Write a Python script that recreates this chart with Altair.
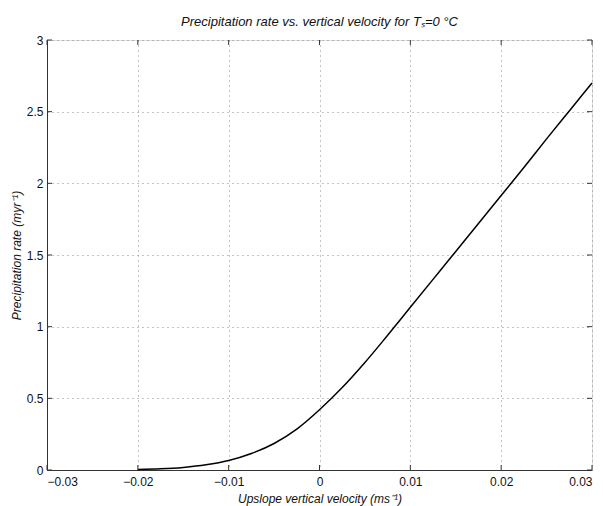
import altair as alt
import pandas as pd

# Curve values
velocity = [-0.02, -0.0175, -0.015, -0.0125, -0.01, -0.0075, -0.005, -0.0025, 0.0,
            0.0025, 0.005, 0.0075, 0.01, 0.0125, 0.015, 0.0175, 0.02, 0.0225,
            0.025, 0.0275, 0.03]
precip = [0.003, 0.008, 0.018, 0.036, 0.066, 0.115, 0.185, 0.285, 0.42,
          0.575, 0.75, 0.94, 1.135, 1.33, 1.525, 1.72, 1.915, 2.11,
          2.31, 2.505, 2.70]

x_ticks = [-0.03, -0.02, -0.01, 0.0, 0.01, 0.02, 0.03]
y_ticks = [0, 0.5, 1, 1.5, 2, 2.5, 3]

W, H = 545, 430
FONT = "Liberation Sans"

df = pd.DataFrame({"v": velocity, "p": precip})
xt = pd.DataFrame({"t": x_ticks})
yt = pd.DataFrame({"t": y_ticks})

xs = alt.Scale(domain=[-0.03, 0.03], nice=False, zero=False)
ys = alt.Scale(domain=[0, 3], nice=False)

x_axis = alt.Axis(values=x_ticks, format="~g", grid=True, gridDash=[1, 4],
                  gridColor="#888", gridWidth=1, ticks=False, labelPadding=6,
                  labelExpr="replace(datum.label, '-', '\u2212')",
                  labelFontSize=12, labelFont=FONT, labelColor="#111",
                  domainColor="#333", title="Upslope vertical velocity (ms⁻¹)",
                  titleFont=FONT, titleFontSize=12, titleFontStyle="italic",
                  titleFontWeight="normal", titleColor="#111", titlePadding=6)
y_axis = alt.Axis(values=y_ticks, format="~g", grid=True, gridDash=[1, 4],
                  gridColor="#888", gridWidth=1, ticks=False, labelPadding=4,
                  labelFontSize=12, labelFont=FONT, labelColor="#111",
                  domainColor="#333", title="Precipitation rate (myr⁻¹)",
                  titleFont=FONT, titleFontSize=12, titleFontStyle="italic",
                  titleFontWeight="normal", titleColor="#111", titlePadding=3)

line = alt.Chart(df).mark_line(color="black", strokeWidth=1.5, interpolate="monotone").encode(
    x=alt.X("v:Q", scale=xs, axis=x_axis),
    y=alt.Y("p:Q", scale=ys, axis=y_axis),
)

tick_style = dict(color="#333", strokeWidth=1)
xt_bot = alt.Chart(xt).mark_rule(**tick_style).encode(
    x=alt.X("t:Q", scale=xs), y=alt.value(H - 5), y2=alt.value(H))
xt_top = alt.Chart(xt).mark_rule(**tick_style).encode(
    x=alt.X("t:Q", scale=xs), y=alt.value(0), y2=alt.value(5))
yt_left = alt.Chart(yt).mark_rule(**tick_style).encode(
    y=alt.Y("t:Q", scale=ys), x=alt.value(0), x2=alt.value(5))
yt_right = alt.Chart(yt).mark_rule(**tick_style).encode(
    y=alt.Y("t:Q", scale=ys), x=alt.value(W - 5), x2=alt.value(W))

chart = alt.layer(line, xt_bot, xt_top, yt_left, yt_right).properties(
    width=W, height=H,
    title=alt.TitleParams("Precipitation rate vs. vertical velocity for Tₛ=0 °C",
                          font=FONT, fontSize=13, fontStyle="italic",
                          fontWeight="normal", color="#111", anchor="middle",
                          offset=5),
    autosize=alt.AutoSizeParams(type="none"),
    padding={"left": 47, "top": 40, "right": 11, "bottom": 36},
).configure_view(stroke="#333", strokeWidth=1).configure(background="white")

chart.save("out.html", embed_options={"renderer": "svg", "actions": False})
